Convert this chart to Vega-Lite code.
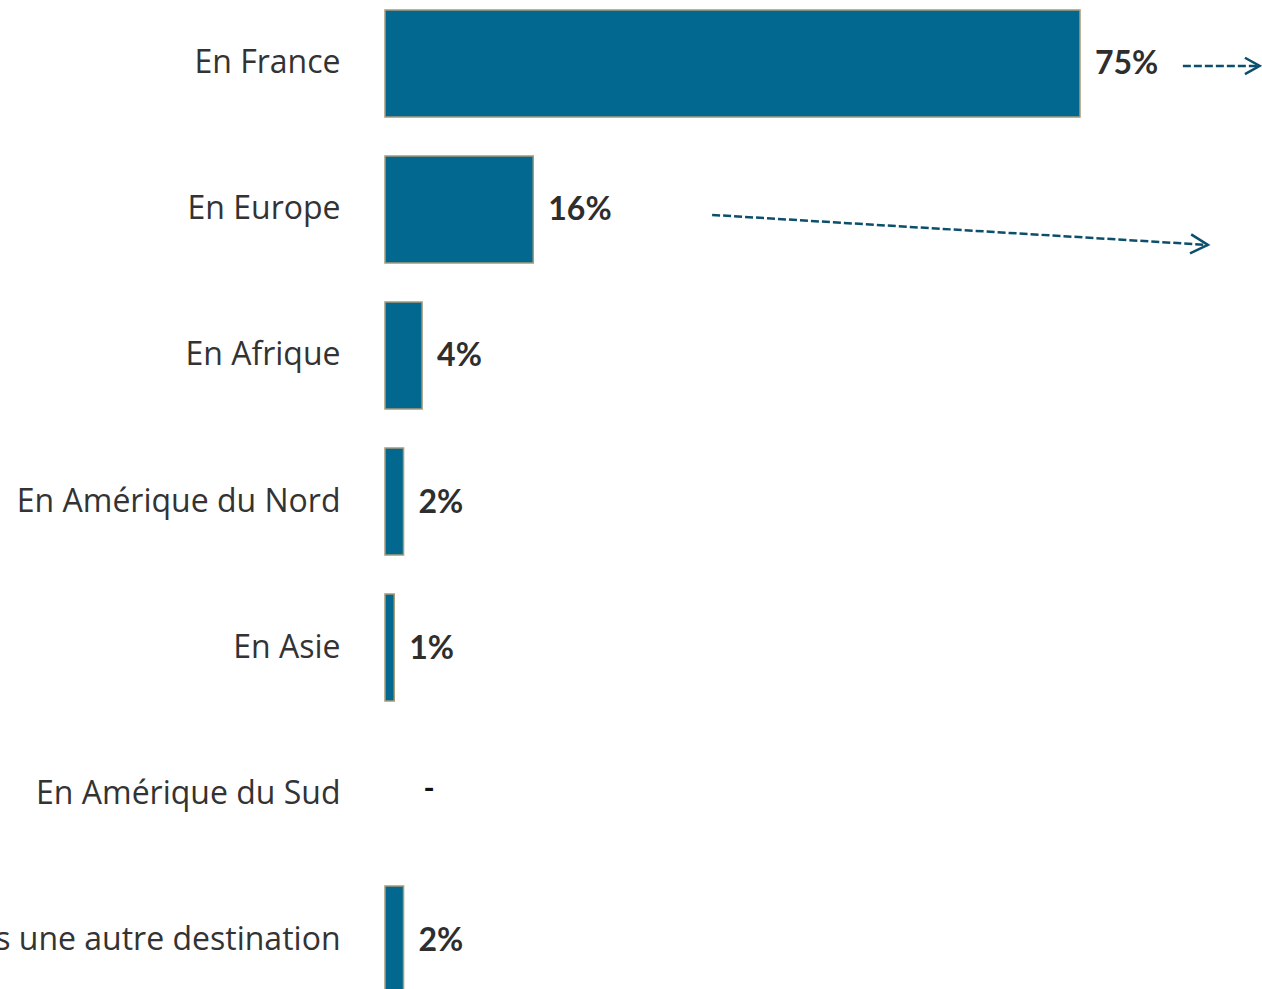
{
  "$schema": "https://vega.github.io/schema/vega-lite/v6.json",
  "width": 877,
  "height": 989,
  "autosize": {"type": "none"},
  "padding": {"left": 385, "top": 7, "right": 0, "bottom": 0},
  "background": "white",
  "config": {"view": {"stroke": null}, "font": "Open Sans"},
  "datasets": {
    "bars": [
      {"destination": "En France", "pct": 75, "label": "75%"},
      {"destination": "En Europe", "pct": 16, "label": "16%"},
      {"destination": "En Afrique", "pct": 4, "label": "4%"},
      {"destination": "En Amérique du Nord", "pct": 2, "label": "2%"},
      {"destination": "En Asie", "pct": 1, "label": "1%"},
      {"destination": "En Amérique du Sud", "pct": 0, "label": "-"},
      {"destination": "Dans une autre destination", "pct": 2, "label": "2%"}
    ],
    "arrows": [
      {"arrow": "a1", "destination": "En France", "x": 86.1, "off": 56, "end": false},
      {"arrow": "a1", "destination": "En France", "x": 94.4, "off": 56, "end": true},
      {"arrow": "a2", "destination": "En Europe", "x": 35.3, "off": 59, "end": false},
      {"arrow": "a2", "destination": "En Europe", "x": 88.8, "off": 89, "end": true}
    ]
  },
  "resolve": {"scale": {"yOffset": "independent"}},
  "layer": [
    {
      "data": {"name": "bars"},
      "transform": [{"filter": "datum.pct > 0"}],
      "mark": {"type": "bar", "fill": "#03688f", "stroke": "#a99a78", "strokeWidth": 1.5, "height": {"band": 1}},
      "encoding": {
        "y": {
          "field": "destination", "type": "nominal", "sort": null,
          "scale": {"domain": ["En France", "En Europe", "En Afrique", "En Amérique du Nord", "En Asie", "En Amérique du Sud", "Dans une autre destination"], "paddingInner": 0.267, "paddingOuter": 0.02},
          "axis": {"title": null, "domain": false, "ticks": false, "labelFontSize": 32, "labelColor": "#333333", "labelPadding": 45, "labelLimit": 2000, "labelFont": "Open Sans"}
        },
        "x": {"field": "pct", "type": "quantitative", "scale": {"domain": [0, 94.64], "nice": false, "zero": true}, "axis": null}
      }
    },
    {
      "data": {"name": "bars"},
      "transform": [{"filter": "datum.pct > 0"}],
      "mark": {"type": "text", "align": "left", "baseline": "middle", "dx": 15, "dy": 1, "fontSize": 32, "fontWeight": "bold", "color": "#2e2e2e", "font": "Lato"},
      "encoding": {
        "y": {"field": "destination", "type": "nominal", "sort": null},
        "x": {"field": "pct", "type": "quantitative"},
        "text": {"field": "label"}
      }
    },
    {
      "data": {"name": "bars"},
      "transform": [{"filter": "datum.pct == 0"}],
      "mark": {"type": "text", "align": "center", "baseline": "middle", "dx": 44, "dy": -4, "fontSize": 30, "fontWeight": "bold", "color": "#111111", "font": "Lato"},
      "encoding": {
        "y": {"field": "destination", "type": "nominal", "sort": null},
        "x": {"field": "pct", "type": "quantitative"},
        "text": {"field": "label"}
      }
    },
    {
      "data": {"name": "arrows"},
      "mark": {"type": "line", "color": "#0b4f6c", "strokeWidth": 2.5, "strokeDash": [8, 3]},
      "encoding": {
        "y": {"field": "destination", "type": "nominal", "sort": null},
        "yOffset": {"field": "off", "type": "quantitative", "scale": {"domain": [0, 146], "range": [0, 146]}},
        "x": {"field": "x", "type": "quantitative"},
        "detail": {"field": "arrow"}
      }
    },
    {
      "data": {"name": "arrows"},
      "transform": [{"filter": "datum.end && datum.arrow == 'a1'"}],
      "mark": {"type": "point", "shape": "M-2,-1.1L0,0L-2,1.1", "filled": false, "stroke": "#0b4f6c", "strokeWidth": 2.5, "size": 220, "opacity": 1},
      "encoding": {
        "y": {"field": "destination", "type": "nominal", "sort": null},
        "yOffset": {"field": "off", "type": "quantitative", "scale": {"domain": [0, 146], "range": [0, 146]}},
        "x": {"field": "x", "type": "quantitative"}
      }
    },
    {
      "data": {"name": "arrows"},
      "transform": [{"filter": "datum.end && datum.arrow == 'a2'"}],
      "mark": {"type": "point", "shape": "M-2,-1.1L0,0L-2,1.1", "filled": false, "stroke": "#0b4f6c", "strokeWidth": 2.5, "size": 300, "angle": 3.5, "opacity": 1},
      "encoding": {
        "y": {"field": "destination", "type": "nominal", "sort": null},
        "yOffset": {"field": "off", "type": "quantitative", "scale": {"domain": [0, 146], "range": [0, 146]}},
        "x": {"field": "x", "type": "quantitative"}
      }
    }
  ]
}
